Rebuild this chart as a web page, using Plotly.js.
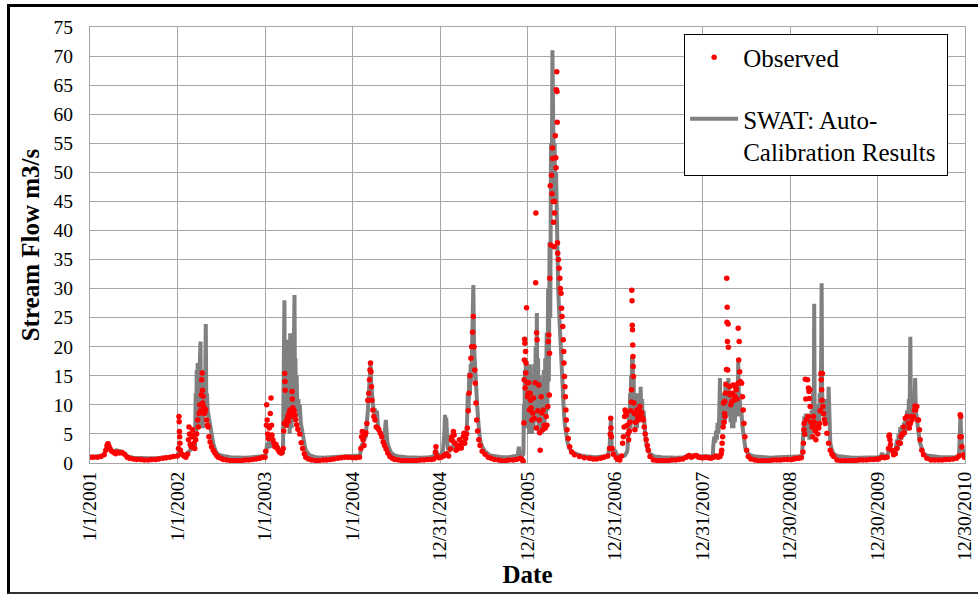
<!DOCTYPE html>
<html>
<head>
<meta charset="utf-8">
<script src="https://cdn.plot.ly/plotly-3.0.1.min.js"></script>
<style>
html,body{margin:0;padding:0;background:#fff;}
#wrap{position:relative;width:978px;height:594px;overflow:hidden;}
#chart{position:absolute;left:0;top:0;width:978px;height:594px;}
#frame{position:absolute;left:7px;top:4px;width:990px;height:585px;border-top:3px solid #000;border-left:3px solid #000;border-bottom:2px solid #333;pointer-events:none;}
</style>
</head>
<body>
<div id="wrap"><div id="chart"></div><div id="frame"></div></div>
<script>
// x-axis tick positions (365-day spacing) and their labels
const tickDates = ['2001-01-01','2002-01-01','2003-01-01','2004-01-01','2004-12-31','2005-12-31','2006-12-31','2007-12-31','2008-12-30','2009-12-30','2010-12-30'];
const tickLabels = ['1/1/2001','1/1/2002','1/1/2003','1/1/2004','12/31/2004','12/31/2005','12/31/2006','12/31/2007','12/30/2008','12/30/2009','12/30/2010'];

// Observed stream flow (m3/s), [date, value]
const observedPoints = [
['2001-01-01',1.0],['2001-01-15',1.0],['2001-02-01',1.0],['2001-02-15',1.1],['2001-03-01',1.4],['2001-03-08',2.2],['2001-03-13',3.0],['2001-03-17',3.3],['2001-03-21',2.9],['2001-03-26',2.4],['2001-04-02',2.0],['2001-04-10',1.8],['2001-04-18',1.6],['2001-04-25',1.9],['2001-05-05',1.7],['2001-05-15',1.8],['2001-05-25',1.5],['2001-06-05',1.0],['2001-06-15',0.8],['2001-07-01',0.7],['2001-07-15',0.6],['2001-08-01',0.6],['2001-08-15',0.5],['2001-09-01',0.5],['2001-09-15',0.6],['2001-10-01',0.6],['2001-10-15',0.7],['2001-11-01',0.8],['2001-11-15',0.9],['2001-12-01',1.0],['2001-12-15',1.1],
['2002-01-01',1.2],['2002-01-05',2.5],['2002-01-07',8.0],['2002-01-08',7.1],['2002-01-09',5.4],['2002-01-10',4.5],['2002-01-11',3.4],['2002-01-13',2.2],['2002-01-20',1.5],['2002-01-28',1.2],['2002-02-05',1.0],['2002-02-12',1.5],['2002-02-16',4.0],['2002-02-18',6.2],['2002-02-20',5.0],['2002-02-23',3.2],['2002-02-27',2.8],['2002-03-02',4.5],['2002-03-05',5.7],['2002-03-07',4.8],['2002-03-10',3.4],['2002-03-14',2.5],['2002-03-18',4.0],['2002-03-22',5.0],['2002-03-26',7.4],['2002-03-29',6.2],['2002-04-01',8.5],['2002-04-04',10.0],['2002-04-07',9.0],['2002-04-10',11.7],['2002-04-12',14.3],['2002-04-14',15.5],['2002-04-15',12.5],['2002-04-16',10.3],['2002-04-18',11.5],['2002-04-20',9.7],['2002-04-22',8.5],['2002-04-25',8.7],['2002-04-28',9.2],['2002-05-02',7.4],['2002-05-06',6.5],['2002-05-09',6.2],['2002-05-12',4.5],['2002-05-17',3.6],['2002-05-23',2.8],['2002-05-30',2.2],['2002-06-06',1.7],['2002-06-13',1.3],['2002-06-20',1.0],['2002-07-01',0.8],['2002-07-11',0.6],['2002-07-25',0.5],['2002-08-10',0.4],['2002-08-25',0.4],['2002-09-10',0.4],['2002-09-25',0.4],['2002-10-10',0.5],['2002-10-25',0.5],['2002-11-10',0.6],['2002-11-25',0.7],['2002-12-10',0.8],['2002-12-22',1.0],
['2003-01-01',1.0],['2003-01-04',2.0],['2003-01-07',6.5],['2003-01-08',10.0],['2003-01-10',7.4],['2003-01-12',5.0],['2003-01-15',4.2],['2003-01-19',6.0],['2003-01-23',8.5],['2003-01-26',11.2],['2003-01-28',6.5],['2003-01-30',4.8],['2003-02-03',4.0],['2003-02-07',3.4],['2003-02-11',2.8],['2003-02-16',3.2],['2003-02-21',2.6],['2003-02-26',2.2],['2003-03-03',1.9],['2003-03-08',1.7],['2003-03-13',1.8],['2003-03-18',2.5],['2003-03-20',5.5],['2003-03-22',6.8],['2003-03-24',15.4],['2003-03-25',14.0],['2003-03-26',12.5],['2003-03-28',7.0],['2003-03-31',6.5],['2003-04-03',7.5],['2003-04-06',8.0],['2003-04-09',7.2],['2003-04-12',8.6],['2003-04-15',9.1],['2003-04-18',8.0],['2003-04-21',8.8],['2003-04-24',12.3],['2003-04-25',11.0],['2003-04-27',9.5],['2003-04-30',8.5],['2003-05-03',9.0],['2003-05-06',8.2],['2003-05-09',7.5],['2003-05-13',6.6],['2003-05-18',5.8],['2003-05-26',5.0],['2003-06-01',3.5],['2003-06-07',2.5],['2003-06-14',1.6],['2003-06-20',1.0],['2003-07-01',0.7],['2003-07-15',0.5],['2003-08-01',0.4],['2003-08-15',0.4],['2003-09-01',0.5],['2003-09-15',0.5],['2003-10-01',0.6],['2003-10-15',0.7],['2003-11-01',0.8],['2003-11-15',0.9],['2003-12-01',1.0],['2003-12-15',1.0],
['2004-01-01',0.9],['2004-01-15',0.9],['2004-01-30',1.0],['2004-02-05',2.5],['2004-02-08',4.5],['2004-02-11',5.4],['2004-02-14',4.0],['2004-02-18',3.0],['2004-02-22',4.8],['2004-02-26',5.2],['2004-03-01',6.8],['2004-03-05',10.8],['2004-03-09',12.0],['2004-03-12',14.3],['2004-03-14',16.0],['2004-03-16',17.2],['2004-03-18',15.7],['2004-03-20',13.1],['2004-03-22',10.8],['2004-03-26',9.1],['2004-03-30',8.0],['2004-04-04',7.4],['2004-04-09',6.2],['2004-04-15',6.0],['2004-04-20',5.7],['2004-04-26',5.1],['2004-05-02',4.5],['2004-05-08',3.6],['2004-05-14',3.0],['2004-05-20',2.4],['2004-05-27',1.7],['2004-06-05',1.1],['2004-06-15',0.8],['2004-06-25',0.6],['2004-07-10',0.5],['2004-07-25',0.4],['2004-08-10',0.4],['2004-08-25',0.4],['2004-09-10',0.4],['2004-09-25',0.4],['2004-10-10',0.5],['2004-10-25',0.5],['2004-11-10',0.6],['2004-11-25',0.6],['2004-12-05',0.7],['2004-12-12',1.9],['2004-12-14',2.8],['2004-12-18',1.2],['2004-12-26',0.9],
['2005-01-05',1.0],['2005-01-15',1.2],['2005-01-22',1.4],['2005-01-28',1.6],['2005-02-05',1.2],['2005-02-12',2.4],['2005-02-16',4.0],['2005-02-18',4.5],['2005-02-22',3.8],['2005-02-25',5.4],['2005-02-28',4.8],['2005-03-03',3.4],['2005-03-08',2.2],['2005-03-12',3.0],['2005-03-17',2.5],['2005-03-22',4.0],['2005-03-26',3.1],['2005-03-30',2.6],['2005-04-03',3.5],['2005-04-07',4.5],['2005-04-10',5.1],['2005-04-13',3.4],['2005-04-17',4.2],['2005-04-21',5.0],['2005-04-24',6.0],['2005-04-28',9.0],['2005-05-01',12.0],['2005-05-05',15.0],['2005-05-09',18.0],['2005-05-12',20.0],['2005-05-16',22.5],['2005-05-19',25.2],['2005-05-22',20.0],['2005-05-25',16.0],['2005-05-27',13.7],['2005-05-30',10.3],['2005-06-02',7.4],['2005-06-06',5.5],['2005-06-11',4.0],['2005-06-16',3.0],['2005-06-25',2.0],['2005-07-07',1.5],['2005-07-20',1.0],['2005-08-01',0.8],['2005-08-15',0.6],['2005-09-01',0.5],['2005-09-15',0.4],['2005-10-01',0.4],['2005-10-15',0.5],['2005-11-01',0.5],['2005-11-15',0.6],['2005-12-01',0.8],['2005-12-08',0.6],['2005-12-13',0.3],['2005-12-16',6.9],['2005-12-17',14.3],['2005-12-18',17.7],['2005-12-19',21.3],['2005-12-20',20.6],['2005-12-21',12.9],['2005-12-23',19.2],['2005-12-24',15.5],['2005-12-25',17.2],['2005-12-27',26.7],['2005-12-29',13.8],['2005-12-31',11.4],
['2006-01-03',12.0],['2006-01-05',13.8],['2006-01-08',9.1],['2006-01-11',12.0],['2006-01-13',10.8],['2006-01-15',9.5],['2006-01-18',7.4],['2006-01-22',8.6],['2006-01-25',11.2],['2006-01-28',7.7],['2006-02-01',13.8],['2006-02-03',31.0],['2006-02-04',43.0],['2006-02-06',6.0],['2006-02-07',22.4],['2006-02-09',21.2],['2006-02-12',9.0],['2006-02-16',13.4],['2006-02-18',7.4],['2006-02-20',5.2],['2006-02-22',2.2],['2006-02-26',11.4],['2006-03-01',8.6],['2006-03-04',5.7],['2006-03-07',9.1],['2006-03-11',6.5],['2006-03-15',6.0],['2006-03-19',8.0],['2006-03-22',6.5],['2006-03-26',9.7],['2006-03-28',20.9],['2006-03-30',22.0],['2006-04-01',11.7],['2006-04-02',18.9],['2006-04-03',31.8],['2006-04-05',47.7],['2006-04-07',37.5],['2006-04-10',49.5],['2006-04-12',46.3],['2006-04-14',54.2],['2006-04-15',52.4],['2006-04-17',45.0],['2006-04-19',41.4],['2006-04-21',37.2],['2006-04-22',43.0],['2006-04-23',45.0],['2006-04-26',56.3],['2006-04-28',52.5],['2006-04-29',50.8],['2006-04-30',64.2],['2006-05-02',67.3],['2006-05-03',63.9],['2006-05-04',58.6],['2006-05-05',37.9],['2006-05-06',36.1],['2006-05-09',35.0],['2006-05-12',33.5],['2006-05-15',31.8],['2006-05-17',30.0],['2006-05-20',29.2],['2006-05-22',26.6],['2006-05-24',25.2],['2006-05-27',23.5],['2006-05-29',21.2],['2006-05-31',19.2],['2006-06-01',17.2],['2006-06-03',14.9],['2006-06-05',13.1],['2006-06-07',11.4],['2006-06-09',9.1],['2006-06-11',7.4],['2006-06-14',5.7],['2006-06-19',4.2],['2006-06-25',2.8],['2006-07-03',1.9],['2006-07-15',1.4],['2006-08-05',1.1],['2006-08-25',0.9],['2006-09-15',0.8],['2006-10-01',0.7],['2006-10-15',0.7],['2006-11-01',0.8],['2006-11-15',1.0],['2006-12-01',1.2],['2006-12-08',2.5],['2006-12-11',5.0],['2006-12-13',7.7],['2006-12-14',6.0],['2006-12-16',4.5],['2006-12-19',2.5],['2006-12-24',1.5],
['2007-01-05',0.9],['2007-01-12',0.6],['2007-01-20',0.5],['2007-01-27',1.2],['2007-02-01',3.4],['2007-02-04',4.5],['2007-02-07',6.2],['2007-02-09',8.0],['2007-02-11',9.1],['2007-02-14',8.8],['2007-02-17',8.3],['2007-02-20',6.5],['2007-02-23',5.0],['2007-02-26',4.0],['2007-03-01',5.5],['2007-03-04',7.0],['2007-03-07',9.0],['2007-03-09',10.5],['2007-03-10',12.6],['2007-03-11',29.7],['2007-03-12',27.9],['2007-03-13',23.7],['2007-03-14',22.9],['2007-03-15',20.3],['2007-03-16',18.3],['2007-03-17',16.6],['2007-03-18',14.9],['2007-03-20',10.3],['2007-03-22',8.5],['2007-03-24',5.7],['2007-03-27',7.0],['2007-04-01',9.1],['2007-04-04',8.0],['2007-04-07',7.4],['2007-04-11',8.2],['2007-04-14',9.7],['2007-04-17',8.8],['2007-04-21',8.6],['2007-04-25',7.8],['2007-04-28',7.4],['2007-05-02',6.2],['2007-05-06',5.0],['2007-05-10',4.0],['2007-05-15',3.0],['2007-05-19',2.2],['2007-05-26',1.1],['2007-06-09',0.5],['2007-06-25',0.4],['2007-07-10',0.4],['2007-07-25',0.4],['2007-08-10',0.4],['2007-08-25',0.5],['2007-09-10',0.5],['2007-09-25',0.6],['2007-10-10',0.7],['2007-10-25',1.0],['2007-11-05',1.3],['2007-11-15',1.0],['2007-11-25',1.2],['2007-12-05',1.3],['2007-12-15',1.0],['2007-12-25',0.9],
['2008-01-05',0.9],['2008-01-15',1.0],['2008-01-25',0.9],['2008-02-05',0.8],['2008-02-15',1.0],['2008-02-25',1.2],['2008-03-05',1.0],['2008-03-13',1.1],['2008-03-18',1.6],['2008-03-20',2.2],['2008-03-22',3.4],['2008-03-24',4.5],['2008-03-26',6.2],['2008-03-28',10.3],['2008-03-30',7.0],['2008-04-01',8.5],['2008-04-02',10.6],['2008-04-03',8.0],['2008-04-05',12.0],['2008-04-07',13.5],['2008-04-09',16.1],['2008-04-10',31.8],['2008-04-11',24.2],['2008-04-12',26.8],['2008-04-13',20.9],['2008-04-14',16.0],['2008-04-16',23.9],['2008-04-17',19.9],['2008-04-19',12.0],['2008-04-22',13.1],['2008-04-24',11.7],['2008-04-27',10.0],['2008-05-01',10.6],['2008-05-04',12.0],['2008-05-07',13.4],['2008-05-10',10.8],['2008-05-14',11.5],['2008-05-18',12.9],['2008-05-20',12.6],['2008-05-23',11.0],['2008-05-27',13.7],['2008-05-28',23.2],['2008-05-30',17.7],['2008-06-01',20.9],['2008-06-03',15.7],['2008-06-06',14.0],['2008-06-11',13.7],['2008-06-15',11.4],['2008-06-18',9.1],['2008-06-21',6.8],['2008-06-25',4.5],['2008-07-02',2.2],['2008-07-09',1.1],['2008-07-20',0.7],['2008-08-05',0.5],['2008-08-20',0.4],['2008-09-05',0.4],['2008-09-20',0.4],['2008-10-05',0.4],['2008-10-20',0.5],['2008-11-05',0.5],['2008-11-20',0.5],['2008-12-05',0.6],['2008-12-20',0.6],
['2009-01-05',0.6],['2009-01-15',0.7],['2009-01-25',0.8],['2009-02-05',0.8],['2009-02-15',0.9],['2009-02-22',1.9],['2009-02-24',3.4],['2009-02-26',5.7],['2009-02-27',6.8],['2009-03-01',5.0],['2009-03-04',14.4],['2009-03-06',11.0],['2009-03-09',7.5],['2009-03-13',14.3],['2009-03-16',8.0],['2009-03-17',12.9],['2009-03-19',12.3],['2009-03-21',11.1],['2009-03-23',12.6],['2009-03-24',9.7],['2009-03-27',7.0],['2009-04-01',6.2],['2009-04-04',4.5],['2009-04-07',8.0],['2009-04-10',7.0],['2009-04-14',5.5],['2009-04-17',4.0],['2009-04-21',6.2],['2009-04-25',5.0],['2009-04-29',6.0],['2009-05-02',6.8],['2009-05-05',9.0],['2009-05-08',15.4],['2009-05-09',14.3],['2009-05-11',12.6],['2009-05-12',10.8],['2009-05-14',15.4],['2009-05-16',9.7],['2009-05-19',8.5],['2009-05-22',7.5],['2009-05-26',6.8],['2009-06-02',5.1],['2009-06-09',3.4],['2009-06-16',2.2],['2009-06-23',1.5],['2009-06-30',1.1],['2009-07-14',0.5],['2009-07-30',0.4],['2009-08-15',0.4],['2009-08-30',0.4],['2009-09-15',0.4],['2009-09-30',0.4],['2009-10-15',0.5],['2009-10-30',0.5],['2009-11-15',0.5],['2009-11-30',0.6],['2009-12-15',0.6],['2009-12-28',0.7],
['2010-01-05',0.7],['2010-01-18',1.0],['2010-01-28',0.9],['2010-02-08',1.0],['2010-02-14',2.5],['2010-02-16',4.6],['2010-02-18',4.8],['2010-02-20',4.0],['2010-02-22',3.2],['2010-02-28',2.2],['2010-03-07',1.4],['2010-03-14',1.6],['2010-03-21',2.5],['2010-03-28',3.5],['2010-04-04',3.4],['2010-04-07',4.5],['2010-04-12',5.0],['2010-04-18',6.2],['2010-04-21',5.2],['2010-04-25',7.7],['2010-05-02',8.0],['2010-05-08',6.8],['2010-05-12',6.0],['2010-05-16',6.8],['2010-05-21',8.0],['2010-05-23',7.4],['2010-05-29',8.0],['2010-06-02',9.1],['2010-06-04',9.8],['2010-06-07',9.1],['2010-06-12',9.7],['2010-06-16',7.4],['2010-06-19',7.4],['2010-06-23',5.7],['2010-06-26',4.0],['2010-07-03',2.2],['2010-07-10',1.4],['2010-07-24',0.8],['2010-08-10',0.5],['2010-08-25',0.5],['2010-09-10',0.5],['2010-09-25',0.5],['2010-10-10',0.6],['2010-10-25',0.6],['2010-11-10',0.7],['2010-11-25',0.8],['2010-12-05',1.2],['2010-12-09',4.5],['2010-12-10',8.3],['2010-12-12',8.0],['2010-12-14',4.5],['2010-12-17',2.8],['2010-12-22',1.4],['2010-12-28',1.0]
];

// SWAT auto-calibration simulated flow (m3/s), [date, value]
const swatPoints = [
['2001-01-01',1.1],['2001-02-01',1.1],['2001-03-01',1.4],['2001-03-10',2.5],['2001-03-17',3.6],['2001-03-25',2.6],['2001-04-05',2.0],['2001-04-20',2.2],['2001-05-10',2.0],['2001-05-25',1.6],['2001-06-10',1.1],['2001-07-01',0.9],['2001-08-01',0.8],['2001-09-01',0.8],['2001-10-01',0.8],['2001-11-01',0.9],['2001-12-01',1.0],['2001-12-20',1.1],
['2002-01-01',1.3],['2002-01-07',2.0],['2002-01-15',1.5],['2002-02-01',1.3],['2002-02-18',2.0],['2002-03-05',2.5],['2002-03-15',3.0],['2002-03-18',12],['2002-03-20',5],['2002-03-22',16],['2002-03-24',6],['2002-03-26',17.2],['2002-03-28',7],['2002-03-31',15],['2002-04-02',6],['2002-04-04',17],['2002-04-07',20.9],['2002-04-09',8],['2002-04-11',16],['2002-04-13',7],['2002-04-15',14],['2002-04-17',6],['2002-04-19',13],['2002-04-21',7],['2002-04-23',15],['2002-04-25',8],['2002-04-27',18],['2002-04-29',23.9],['2002-05-01',10],['2002-05-04',12],['2002-05-07',9],['2002-05-11',8],['2002-05-16',6.2],['2002-05-22',4.5],['2002-05-30',3.4],['2002-06-06',2.4],['2002-06-13',1.7],['2002-06-25',1.4],['2002-07-10',1.2],['2002-08-10',1.0],['2002-09-10',0.9],['2002-10-10',0.9],['2002-11-10',1.0],['2002-12-10',1.1],
['2003-01-01',1.2],['2003-01-06',1.8],['2003-01-10',3.5],['2003-01-14',2.5],['2003-01-18',3.8],['2003-01-22',2.6],['2003-01-26',4.0],['2003-01-30',3.0],['2003-02-04',3.6],['2003-02-08',2.8],['2003-02-12',3.4],['2003-02-17',2.5],['2003-02-22',3.0],['2003-02-27',2.2],['2003-03-05',2.0],['2003-03-12',1.6],['2003-03-17',1.8],['2003-03-19',8],['2003-03-21',13],['2003-03-23',28.0],['2003-03-25',12],['2003-03-27',18],['2003-03-29',7],['2003-03-31',15],['2003-04-02',6],['2003-04-04',21.2],['2003-04-06',8],['2003-04-08',17],['2003-04-10',6],['2003-04-12',15],['2003-04-14',5],['2003-04-16',22.3],['2003-04-18',8],['2003-04-20',18],['2003-04-22',6],['2003-04-24',16],['2003-04-26',7],['2003-04-28',20],['2003-04-30',9],['2003-05-02',22],['2003-05-04',28.9],['2003-05-06',12],['2003-05-08',18],['2003-05-10',10],['2003-05-13',15],['2003-05-16',9],['2003-05-20',11],['2003-05-23',8],['2003-05-26',10],['2003-05-30',7],['2003-06-03',6],['2003-06-07',5],['2003-06-12',3.5],['2003-06-18',2.5],['2003-06-23',2.0],['2003-07-07',1.3],['2003-08-01',1.0],['2003-09-01',0.9],['2003-10-01',1.0],['2003-11-01',1.1],['2003-12-01',1.2],
['2004-01-01',1.2],['2004-02-01',1.3],['2004-02-08',3.0],['2004-02-15',3.5],['2004-02-25',4.5],['2004-03-05',9.0],['2004-03-12',14.0],['2004-03-16',17.0],['2004-03-20',13.0],['2004-03-25',10.0],['2004-03-30',8.5],['2004-04-03',9.4],['2004-04-08',7.5],['2004-04-12',9.0],['2004-04-16',6.5],['2004-04-22',5.5],['2004-04-28',5.0],['2004-05-05',4.5],['2004-05-12',4.0],['2004-05-16',6.0],['2004-05-19',7.4],['2004-05-22',5.5],['2004-05-26',3.5],['2004-06-02',2.5],['2004-06-10',1.8],['2004-06-25',1.3],['2004-07-15',1.1],['2004-08-15',1.0],['2004-09-15',0.9],['2004-10-15',0.9],['2004-11-15',1.0],['2004-12-05',1.1],['2004-12-14',2.2],['2004-12-20',1.5],
['2005-01-01',1.3],['2005-01-12',2.0],['2005-01-18',5.0],['2005-01-21',8.3],['2005-01-23',4.5],['2005-01-26',7.8],['2005-01-29',5.0],['2005-02-02',2.5],['2005-02-10',2.2],['2005-02-20',2.8],['2005-03-01',2.5],['2005-03-10',2.3],['2005-03-20',3.0],['2005-03-30',2.7],['2005-04-08',3.5],['2005-04-15',4.0],['2005-04-22',6.0],['2005-04-26',12.0],['2005-04-29',9.0],['2005-05-02',15.5],['2005-05-05',12],['2005-05-08',17],['2005-05-11',14],['2005-05-14',22],['2005-05-17',26],['2005-05-19',30.6],['2005-05-22',20],['2005-05-25',17],['2005-05-28',16],['2005-05-31',14],['2005-06-04',10],['2005-06-08',7.5],['2005-06-12',5.5],['2005-06-16',4.0],['2005-06-25',2.8],['2005-07-07',2.0],['2005-07-28',1.3],['2005-08-20',1.1],['2005-09-15',1.0],['2005-10-15',1.0],['2005-11-10',1.1],['2005-11-20',1.3],['2005-11-25',2.8],['2005-11-28',1.6],['2005-12-08',1.3],['2005-12-14',1.5],['2005-12-16',10],['2005-12-18',6],['2005-12-20',16],['2005-12-22',8],['2005-12-24',18],['2005-12-26',7],['2005-12-28',15],
['2006-01-01',6],['2006-01-04',14],['2006-01-07',5],['2006-01-10',17],['2006-01-13',6],['2006-01-16',15],['2006-01-19',5],['2006-01-22',14],['2006-01-25',6],['2006-01-28',17],['2006-01-31',7],['2006-02-03',20],['2006-02-05',9],['2006-02-08',25.8],['2006-02-10',7],['2006-02-13',18],['2006-02-16',5],['2006-02-19',15],['2006-02-22',5],['2006-02-25',12],['2006-02-28',5],['2006-03-03',14],['2006-03-06',7],['2006-03-09',16],['2006-03-12',6],['2006-03-15',18],['2006-03-18',8],['2006-03-21',22.4],['2006-03-24',9],['2006-03-27',30],['2006-03-30',14],['2006-04-02',38],['2006-04-05',25],['2006-04-08',55],['2006-04-11',45],['2006-04-14',71.0],['2006-04-16',55],['2006-04-18',62],['2006-04-20',48],['2006-04-23',55],['2006-04-26',45],['2006-04-29',50],['2006-05-02',40],['2006-05-05',36],['2006-05-08',30],['2006-05-12',26],['2006-05-16',22],['2006-05-20',18],['2006-05-24',14],['2006-05-28',11],['2006-06-01',8.5],['2006-06-05',6.5],['2006-06-10',4.8],['2006-06-16',3.5],['2006-06-24',2.5],['2006-07-05',1.9],['2006-07-20',1.6],['2006-08-10',1.3],['2006-09-10',1.1],['2006-10-10',1.0],['2006-11-10',1.1],['2006-12-01',1.3],['2006-12-08',2.5],['2006-12-12',6.9],['2006-12-14',7.4],['2006-12-17',3.0],['2006-12-24',1.8],
['2007-01-01',2.0],['2007-01-10',1.3],['2007-01-25',1.1],['2007-02-10',1.3],['2007-02-20',2.0],['2007-02-24',4.0],['2007-02-27',8.0],['2007-03-01',5.0],['2007-03-04',12],['2007-03-06',6],['2007-03-08',15],['2007-03-10',8],['2007-03-12',18.3],['2007-03-14',7],['2007-03-15',18.6],['2007-03-17',9],['2007-03-19',15],['2007-03-21',7],['2007-03-24',12],['2007-03-27',6],['2007-03-30',11],['2007-04-02',6],['2007-04-05',12],['2007-04-08',7],['2007-04-11',11],['2007-04-14',7],['2007-04-17',13.1],['2007-04-20',8],['2007-04-23',11],['2007-04-26',7],['2007-04-29',9],['2007-05-03',6],['2007-05-07',4.5],['2007-05-12',3.0],['2007-05-18',2.0],['2007-05-28',1.5],['2007-06-15',1.1],['2007-07-15',1.0],['2007-08-15',0.9],['2007-09-15',0.9],['2007-10-15',1.0],['2007-11-05',1.4],['2007-11-20',1.2],['2007-12-10',1.3],['2007-12-25',1.1],
['2008-01-01',1.2],['2008-02-01',1.1],['2008-02-12',1.3],['2008-02-14',3.0],['2008-02-18',4.5],['2008-02-22',3.5],['2008-02-26',5.5],['2008-02-29',4.0],['2008-03-03',6.9],['2008-03-06',5.0],['2008-03-09',7.0],['2008-03-13',14.6],['2008-03-15',6.0],['2008-03-18',10],['2008-03-21',7],['2008-03-24',11],['2008-03-27',6],['2008-03-30',12],['2008-04-02',7],['2008-04-05',14],['2008-04-08',9],['2008-04-11',13],['2008-04-14',8],['2008-04-17',14.6],['2008-04-20',9],['2008-04-23',12],['2008-04-26',7],['2008-04-29',11],['2008-05-02',6],['2008-05-05',10],['2008-05-08',6],['2008-05-11',12],['2008-05-14',7],['2008-05-17',11],['2008-05-20',8],['2008-05-23',13],['2008-05-26',9],['2008-05-28',17.4],['2008-05-31',10],['2008-06-03',12],['2008-06-06',8],['2008-06-10',9],['2008-06-14',6.5],['2008-06-18',5],['2008-06-22',3.5],['2008-06-27',2.5],['2008-07-05',1.8],['2008-07-15',1.4],['2008-08-10',1.1],['2008-09-10',1.0],['2008-10-10',0.9],['2008-11-10',1.0],['2008-12-10',1.0],
['2009-01-01',1.0],['2009-02-01',1.1],['2009-02-18',1.3],['2009-02-21',3.0],['2009-02-23',5.0],['2009-02-25',4.0],['2009-02-28',8.0],['2009-03-03',4.5],['2009-03-06',8.5],['2009-03-09',5],['2009-03-12',7.5],['2009-03-15',4.5],['2009-03-18',7],['2009-03-21',4],['2009-03-24',8],['2009-03-27',5],['2009-03-30',9],['2009-04-02',6],['2009-04-05',12],['2009-04-08',7],['2009-04-10',27.4],['2009-04-12',8],['2009-04-15',10],['2009-04-18',6],['2009-04-21',9],['2009-04-24',6],['2009-04-27',10],['2009-04-30',7],['2009-05-03',12],['2009-05-06',8],['2009-05-09',18],['2009-05-11',30.9],['2009-05-13',12],['2009-05-16',10],['2009-05-19',8],['2009-05-22',11],['2009-05-25',7],['2009-05-28',9],['2009-06-01',7],['2009-06-04',8],['2009-06-06',7],['2009-06-09',13.1],['2009-06-12',5],['2009-06-16',3.5],['2009-06-22',2.3],['2009-06-30',1.6],['2009-07-15',1.2],['2009-08-15',1.0],['2009-09-15',0.9],['2009-10-15',0.9],['2009-11-15',0.9],['2009-12-15',1.0],
['2010-01-01',1.0],['2010-01-12',1.1],['2010-01-18',1.7],['2010-01-24',1.2],['2010-02-10',1.3],['2010-02-16',2.5],['2010-02-21',2.8],['2010-02-26',2.0],['2010-03-07',1.8],['2010-03-15',2.0],['2010-03-21',4.0],['2010-03-25',2.5],['2010-03-28',5.1],['2010-04-01',3.0],['2010-04-04',6.2],['2010-04-08',4],['2010-04-12',6.5],['2010-04-16',4.5],['2010-04-20',7],['2010-04-23',5],['2010-04-25',8.0],['2010-04-28',5.5],['2010-05-02',9],['2010-05-06',6],['2010-05-10',11],['2010-05-13',8],['2010-05-16',21.7],['2010-05-18',9],['2010-05-21',12],['2010-05-24',8],['2010-05-28',11],['2010-06-01',8],['2010-06-05',14.6],['2010-06-08',9],['2010-06-12',8],['2010-06-16',7],['2010-06-20',5],['2010-06-25',3.5],['2010-07-01',2.5],['2010-07-10',1.6],['2010-07-25',1.3],['2010-08-20',1.1],['2010-09-20',1.0],['2010-10-20',1.0],['2010-11-20',1.0],['2010-12-05',1.3],['2010-12-09',5],['2010-12-11',8.0],['2010-12-14',5],['2010-12-18',2.5],['2010-12-25',2.0],['2010-12-30',2.2]
];

const FONT = '"Liberation Serif", "Times New Roman", Times, serif';
const GRID = '#a6a6a6';

const traces = [
  {
    type: 'scatter', mode: 'lines',
    name: 'SWAT: Auto-<br>Calibration Results&nbsp;',
    x: swatPoints.map(p => p[0]), y: swatPoints.map(p => p[1]),
    line: {color: '#808080', width: 4},
    legendgroup: 'swat', legendrank: 2, hoverinfo: 'skip'
  },
  {
    type: 'scatter', mode: 'markers',
    name: 'Observed',
    x: observedPoints.map(p => p[0]), y: observedPoints.map(p => p[1]),
    marker: {symbol: 'circle', color: '#ff0000', size: 5.5, line: {width: 0}},
    legendgroup: 'obs', legendrank: 1, hoverinfo: 'skip'
  }
];

const layout = {
  width: 978, height: 594,
  margin: {l: 90, r: 13, t: 27, b: 131},
  paper_bgcolor: '#ffffff', plot_bgcolor: '#ffffff',
  font: {family: FONT, color: '#000', size: 19.5},
  showlegend: true,
  xaxis: {
    type: 'date', range: ['2001-01-01', '2010-12-30'],
    tickmode: 'array', tickvals: tickDates, ticktext: tickLabels,
    tickangle: -90, ticks: '', showgrid: true, gridcolor: GRID, gridwidth: 1,
    showline: true, linecolor: GRID, mirror: true, zeroline: false,
    tickfont: {family: FONT, size: 19.5, color: '#000'},
    title: {text: '<b>Date</b>', font: {family: FONT, size: 25, color: '#000'}, standoff: 0}
  },
  yaxis: {
    range: [0, 75], tick0: 0, dtick: 5, ticks: '', ticklabelstandoff: 12,
    showgrid: true, gridcolor: GRID, gridwidth: 1,
    showline: true, linecolor: GRID, mirror: true, zeroline: false,
    tickfont: {family: FONT, size: 19.5, color: '#000'},
    title: {text: '<b>Stream Flow m3/s</b>', font: {family: FONT, size: 25, color: '#000'}, standoff: 6}
  },
  legend: {
    x: 0.679, y: 0.985, xanchor: 'left', yanchor: 'top',
    bgcolor: '#ffffff', bordercolor: '#000', borderwidth: 1,
    font: {family: FONT, size: 25, color: '#000'},
    tracegroupgap: 26, valign: 'top', itemwidth: 48
  }
};

Plotly.newPlot('chart', traces, layout, {displayModeBar: false, staticPlot: true});
</script>
</body>
</html>
